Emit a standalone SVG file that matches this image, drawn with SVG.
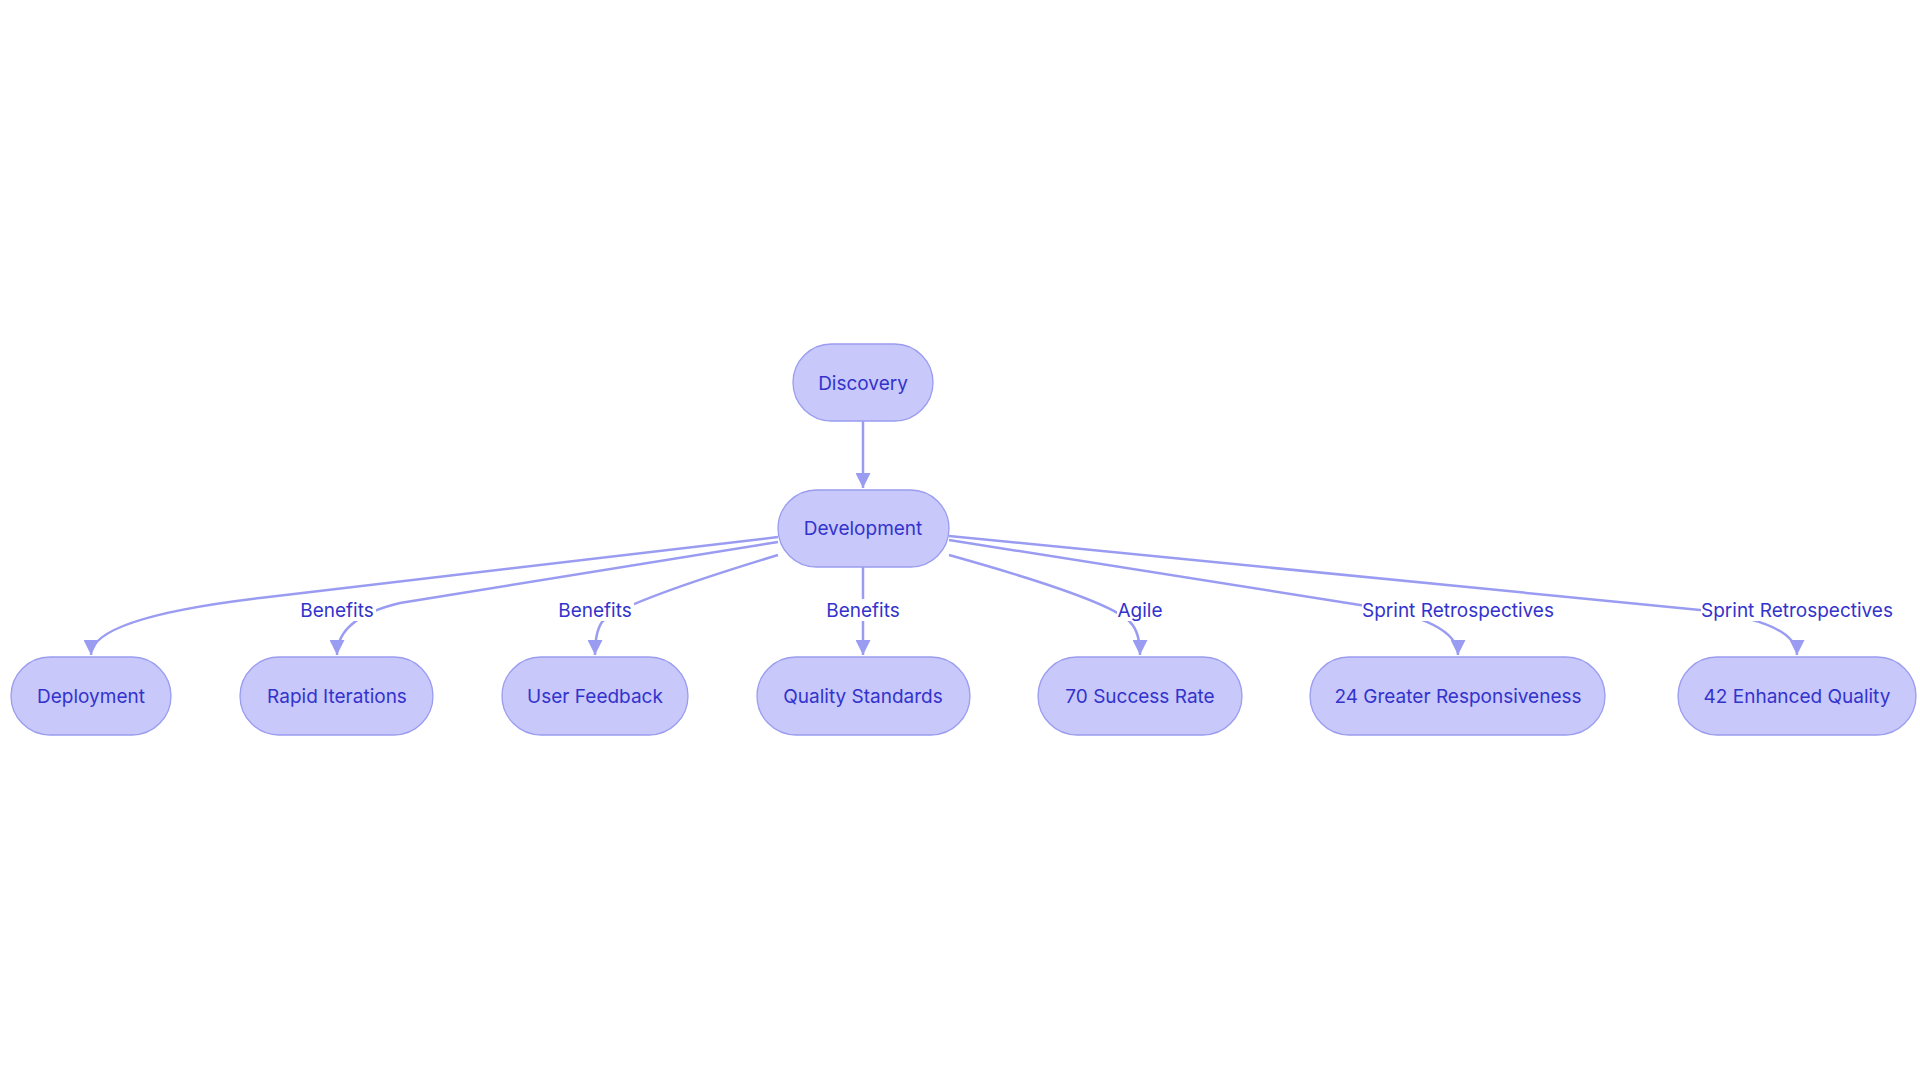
<svg xmlns="http://www.w3.org/2000/svg" width="1920" height="1083" viewBox="0 0 1920 1083">
<style>
.n rect{fill:#c8c8fb;stroke:#9a9cf0;stroke-width:1.3}
.n text,.lb text{font-family:Inter,"Liberation Sans",sans-serif;font-size:19px;fill:#3333cc;text-anchor:middle;dominant-baseline:central}
.e path{fill:none;stroke:#9a9cf2;stroke-width:2.5}
.lb rect{fill:#ffffff}
</style>
<defs><marker id="a" viewBox="0 0 10 10" refX="10" refY="5" markerWidth="6" markerHeight="6" markerUnits="strokeWidth" orient="auto"><path d="M0,0L10,5L0,10z" fill="#9a9cf2"/></marker></defs>
<rect width="1920" height="1083" fill="#fff"/>
<g id="edges" class="e">
<path d="M863,421 L863,488" marker-end="url(#a)"/>
<path d="M778,537 L260,598 Q91,618 91,655" marker-end="url(#a)"/>
<path d="M778,542 L400,603 Q337,618 337,655" marker-end="url(#a)"/>
<path d="M778,555 Q620,603 602,622 Q595,632 595,655" marker-end="url(#a)"/>
<path d="M863,567 L863,655" marker-end="url(#a)"/>
<path d="M949,555 Q1110,600 1130,622 Q1140,632 1140,655" marker-end="url(#a)"/>
<path d="M949,540 L1360,605 Q1458,620 1458,655" marker-end="url(#a)"/>
<path d="M949,536 L1700,610 Q1797,622 1797,655" marker-end="url(#a)"/>
</g>
<g id="labels" class="lb">
<rect x="298" y="599" width="78" height="22"/><text x="337" y="610">Benefits</text>
<rect x="556" y="599" width="78" height="22"/><text x="595" y="610">Benefits</text>
<rect x="824" y="599" width="78" height="22"/><text x="863" y="610">Benefits</text>
<rect x="1117" y="599" width="46" height="22"/><text x="1140" y="610">Agile</text>
<rect x="1362" y="599" width="192" height="22"/><text x="1458" y="610">Sprint Retrospectives</text>
<rect x="1701" y="599" width="192" height="22"/><text x="1797" y="610">Sprint Retrospectives</text>
</g>
<g id="discovery" class="n"><rect x="793" y="344" width="140" height="77" rx="38.5"/><text x="863" y="383">Discovery</text></g>
<g id="development" class="n"><rect x="778" y="490" width="171" height="77" rx="38.5"/><text x="863" y="528">Development</text></g>
<g id="deployment" class="n"><rect x="11" y="657" width="160" height="78" rx="39"/><text x="91" y="696">Deployment</text></g>
<g id="rapid" class="n"><rect x="240" y="657" width="193" height="78" rx="39"/><text x="337" y="696">Rapid Iterations</text></g>
<g id="feedback" class="n"><rect x="502" y="657" width="186" height="78" rx="39"/><text x="595" y="696">User Feedback</text></g>
<g id="quality" class="n"><rect x="757" y="657" width="213" height="78" rx="39"/><text x="863" y="696">Quality Standards</text></g>
<g id="success" class="n"><rect x="1038" y="657" width="204" height="78" rx="39"/><text x="1140" y="696">70 Success Rate</text></g>
<g id="responsive" class="n"><rect x="1310" y="657" width="295" height="78" rx="39"/><text x="1458" y="696">24 Greater Responsiveness</text></g>
<g id="enhanced" class="n"><rect x="1678" y="657" width="238" height="78" rx="39"/><text x="1797" y="696">42 Enhanced Quality</text></g>
</svg>
